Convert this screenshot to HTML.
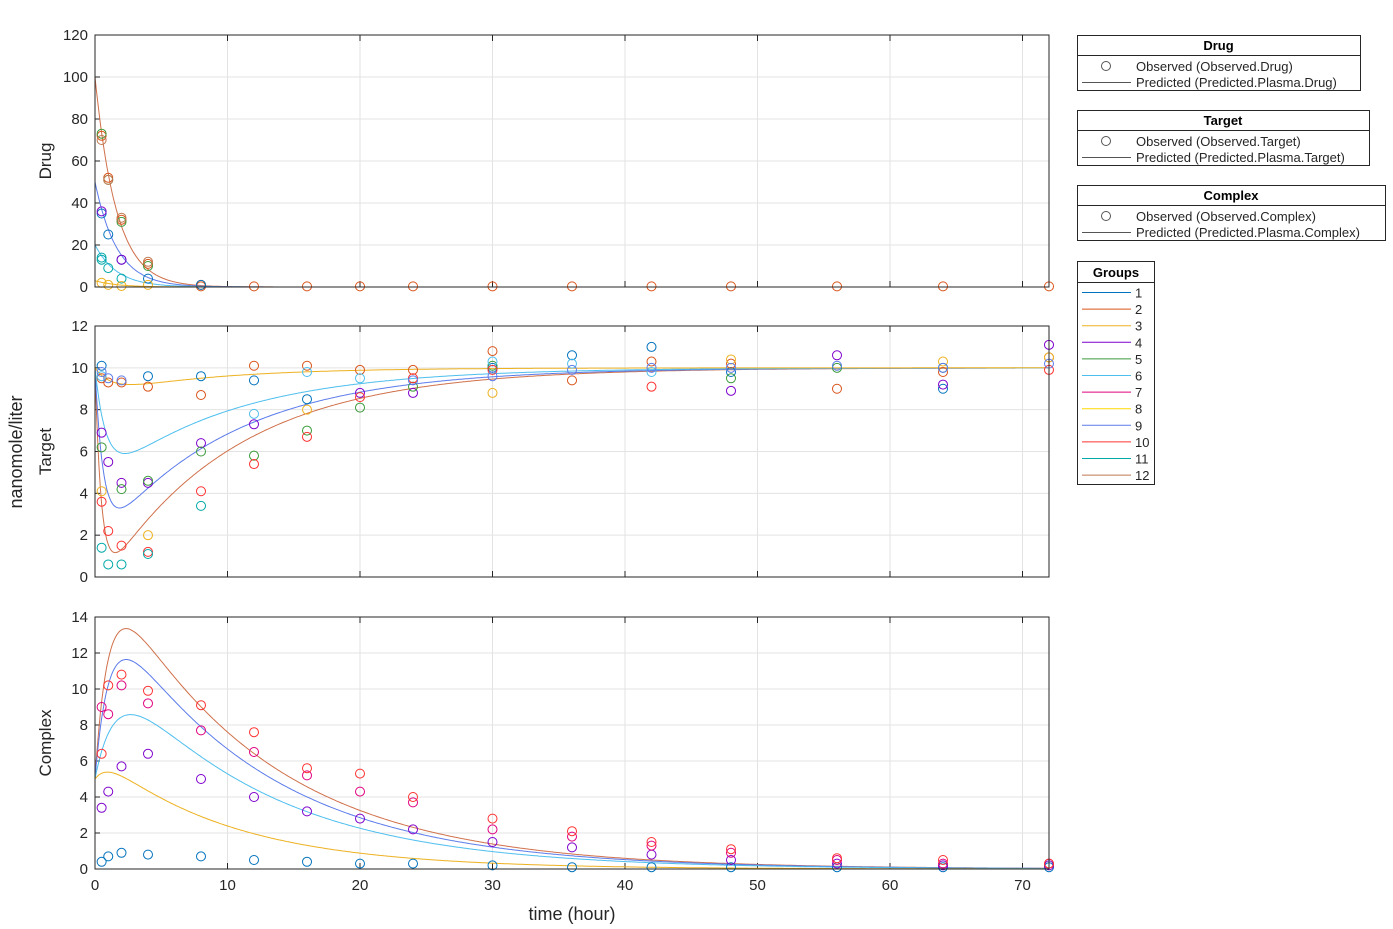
<!DOCTYPE html>
<html><head><meta charset="utf-8"><style>
body{margin:0;background:#fff;width:1393px;height:929px;overflow:hidden;font-family:"Liberation Sans",Arial,sans-serif}
svg{position:absolute;left:0;top:0}
</style></head><body>
<svg id="s" width="1393" height="929" xmlns="http://www.w3.org/2000/svg" font-family="Liberation Sans, Arial, sans-serif"></svg>
<script>
const S=document.getElementById('s');let h='';
const X0=95,X1=1049;const xs=t=>X0+t*(X1-X0)/72;
const P=[{top:35,bot:287,max:120,step:20,lab:'Drug'},{top:326,bot:577,max:12,step:2,lab:'Target'},{top:617,bot:869,max:14,step:2,lab:'Complex'}];
const C={1:'#0072BD',2:'#D95319',3:'#EDB120',4:'#7E00CC',5:'#3A9A3A',6:'#4DBEEE',7:'#E0007F',8:'#FFD700',9:'#5B7BEA',10:'#FF3030',11:'#00A8A8',12:'#C07850'};
function ys(p,v){return p.bot-(p.bot-p.top)*v/p.max}
P.forEach((p,i)=>{
 for(let t=10;t<72;t+=10)h+=`<line x1="${xs(t)}" y1="${p.top}" x2="${xs(t)}" y2="${p.bot}" stroke="#e3e3e3"/>`;
 for(let v=p.step;v<p.max;v+=p.step){const y=ys(p,v);h+=`<line x1="${X0}" y1="${y}" x2="${X1}" y2="${y}" stroke="#e3e3e3"/>`;}
 for(let v=0;v<=p.max;v+=p.step){const y=ys(p,v);h+=`<text x="88" y="${y+5}" font-size="15" text-anchor="end" fill="#262626">${v}</text><line x1="${X0}" y1="${y}" x2="${X0+5}" y2="${y}" stroke="#262626"/>`;}
 for(let t=0;t<=70;t+=10){h+=`<line x1="${xs(t)}" y1="${p.bot}" x2="${xs(t)}" y2="${p.bot-6}" stroke="#262626"/><line x1="${xs(t)}" y1="${p.top}" x2="${xs(t)}" y2="${p.top+6}" stroke="#262626"/>`;}
 h+=`<text transform="translate(51,${(p.top+p.bot)/2}) rotate(-90)" font-size="17" text-anchor="middle" fill="#262626">${p.lab}</text>`;
});
for(let t=0;t<=70;t+=10)h+=`<text x="${xs(t)}" y="890" font-size="15" text-anchor="middle" fill="#262626">${t}</text>`;
h+=`<text x="572" y="920" font-size="18" text-anchor="middle" fill="#262626">time (hour)</text>`;
h+=`<text transform="translate(22,452) rotate(-90)" font-size="18" text-anchor="middle" fill="#262626">nanomole/liter</text>`;
function curve(p,f,col){let d='';for(let t=0;t<=72;t+=0.1){d+=(d?'L':'M')+xs(t).toFixed(1)+','+ys(p,Math.max(0,f(t))).toFixed(1);}h+=`<path d="${d}" fill="none" stroke="${col}" stroke-width="1"/>`;}
[[100,'#D0704A',0.62],[50,'#5B7BEA',0.6],[20,'#4DBEEE',0.6],[3,'#EDB120',0.6]].forEach(([a,c,k])=>curve(P[0],t=>a*Math.exp(-k*t),c));
[[10.8,2,0.1,'#D0704A'],[8.6,1.5,0.1,'#5B7BEA'],[5.6,1.1,0.1,'#4DBEEE'],[1.3,0.7,0.12,'#EDB120']].forEach(([A,k,r,c])=>curve(P[1],t=>10-A*Math.exp(-r*t)*(1-Math.exp(-k*t)),c));
[[5,12.8,0.085,1.0,'#D0704A'],[5,10.6,0.085,0.95,'#5B7BEA'],[5,7.4,0.085,0.65,'#4DBEEE'],[5,1.5,0.1,1.1,'#EDB120']].forEach(([c0,B,r,k,c])=>curve(P[2],t=>c0*Math.exp(-r*t)+B*(Math.exp(-r*t)-Math.exp(-k*t)),c));
function pts(p,col,arr){arr.forEach(([t,v])=>h+=`<circle cx="${xs(t)}" cy="${ys(p,v)}" r="4.5" fill="none" stroke="${col}"/>`);}
const late=[8,12,16,20,24,30,36,42,48,56,64,72];
pts(P[0],C[2],[[0.5,72],[1,52],[2,32],[4,11],[8,1]].concat(late.map(t=>[t,0.3])));
pts(P[0],C[5],[[0.5,73],[1,51],[2,31],[4,10]]);
pts(P[0],C[12],[[0.5,70],[1,51],[2,33],[4,12]]);
pts(P[0],C[1],[[0.5,35],[1,25],[2,13],[4,4],[8,1]]);
pts(P[0],C[4],[[0.5,36],[2,13]]);
pts(P[0],C[11],[[0.5,13],[0.5,14],[1,9],[2,4]]);
pts(P[0],C[3],[[0.5,2],[1,1],[2,0.5],[4,1]]);
pts(P[1],C[1],[[0.5,10.1],[4,9.6],[8,9.6],[12,9.4],[16,8.5],[30,10],[36,10.6],[42,11],[48,9.8],[64,9]]);
pts(P[1],C[2],[[0.5,9.5],[1,9.3],[2,9.3],[4,9.1],[8,8.7],[12,10.1],[16,10.1],[20,9.9],[24,9.9],[30,10.8],[36,9.4],[42,10.3],[48,10.2],[56,9],[64,9.8],[72,10.5]]);
pts(P[1],C[3],[[0.5,4.1],[4,2],[16,8],[30,8.8],[48,10.4],[64,10.3],[72,10.5]]);
pts(P[1],C[4],[[0.5,6.9],[1,5.5],[2,4.5],[4,4.5],[8,6.4],[12,7.3],[20,8.8],[24,8.8],[48,8.9],[56,10.6],[64,9.2],[72,11.1]]);
pts(P[1],C[5],[[0.5,6.2],[2,4.2],[4,4.6],[8,6],[12,5.8],[16,7],[20,8.1],[24,9.1],[30,10.1],[48,9.5],[56,10],[64,10]]);
pts(P[1],C[6],[[0.5,9.6],[12,7.8],[16,9.8],[20,9.5],[30,10.3],[36,10.2],[42,9.8]]);
pts(P[1],C[10],[[0.5,3.6],[1,2.2],[2,1.5],[4,1.2],[8,4.1],[12,5.4],[16,6.7],[20,8.6],[24,9.5],[30,9.9],[42,9.1],[72,9.9]]);
pts(P[1],C[11],[[0.5,1.4],[1,0.6],[2,0.6],[4,1.1],[8,3.4]]);
pts(P[1],C[9],[[0.5,9.8],[1,9.5],[2,9.4],[24,9.4],[30,9.6],[36,9.9],[42,10],[48,10],[56,10.1],[64,10],[72,10.2]]);
pts(P[2],C[1],[[0.5,0.4],[1,0.7],[2,0.9],[4,0.8],[8,0.7],[12,0.5],[16,0.4],[20,0.3],[24,0.3],[30,0.2],[36,0.1],[42,0.1],[48,0.1],[56,0.1],[64,0.1],[72,0.1]]);
pts(P[2],C[4],[[0.5,3.4],[1,4.3],[2,5.7],[4,6.4],[8,5],[12,4],[16,3.2],[20,2.8],[24,2.2],[30,1.5],[36,1.2],[42,0.8],[48,0.5],[56,0.3],[64,0.2],[72,0.2]]);
pts(P[2],C[7],[[0.5,9],[1,8.6],[2,10.2],[4,9.2],[8,7.7],[12,6.5],[16,5.2],[20,4.3],[24,3.7],[30,2.2],[36,1.8],[42,1.3],[48,0.9],[56,0.5],[64,0.3],[72,0.3]]);
pts(P[2],C[10],[[0.5,6.4],[1,10.2],[2,10.8],[4,9.9],[8,9.1],[12,7.6],[16,5.6],[20,5.3],[24,4],[30,2.8],[36,2.1],[42,1.5],[48,1.1],[56,0.6],[64,0.5],[72,0.3]]);
P.forEach(p=>h+=`<rect x="${X0}" y="${p.top}" width="${X1-X0}" height="${p.bot-p.top}" fill="none" stroke="#262626"/>`);
function leg(y,w,title,a,b){h+=`<rect x="1077.5" y="${y}.5" width="${w}" height="55" fill="#fff" stroke="#262626"/><line x1="1078" y1="${y+20.5}" x2="${1077+w}" y2="${y+20.5}" stroke="#262626"/><text x="${1077+w/2}" y="${y+15}" font-size="13" font-weight="bold" text-anchor="middle" fill="#000">${title}</text><circle cx="1106" cy="${y+31}" r="4.5" fill="none" stroke="#555"/><text x="1136" y="${y+36}" font-size="13" fill="#262626">${a}</text><line x1="1082" y1="${y+47.5}" x2="1131" y2="${y+47.5}" stroke="#555"/><text x="1136" y="${y+52}" font-size="13" fill="#262626">${b}</text>`;}
leg(35,283,'Drug','Observed (Observed.Drug)','Predicted (Predicted.Plasma.Drug)');
leg(110,292,'Target','Observed (Observed.Target)','Predicted (Predicted.Plasma.Target)');
leg(185,308,'Complex','Observed (Observed.Complex)','Predicted (Predicted.Plasma.Complex)');
h+=`<rect x="1077.5" y="261.5" width="77" height="223" fill="#fff" stroke="#262626"/><line x1="1078" y1="282.5" x2="1154" y2="282.5" stroke="#262626"/><text x="1116" y="277" font-size="13" font-weight="bold" text-anchor="middle">Groups</text>`;
for(let i=1;i<=12;i++){const y=292.5+(i-1)*16.6;h+=`<line x1="1082" y1="${y.toFixed(1)}" x2="1131" y2="${y.toFixed(1)}" stroke="${C[i]}"/><text x="1135" y="${(y+5).toFixed(1)}" font-size="13" fill="#262626">${i}</text>`;}
S.innerHTML=h;
</script>
</body></html>
